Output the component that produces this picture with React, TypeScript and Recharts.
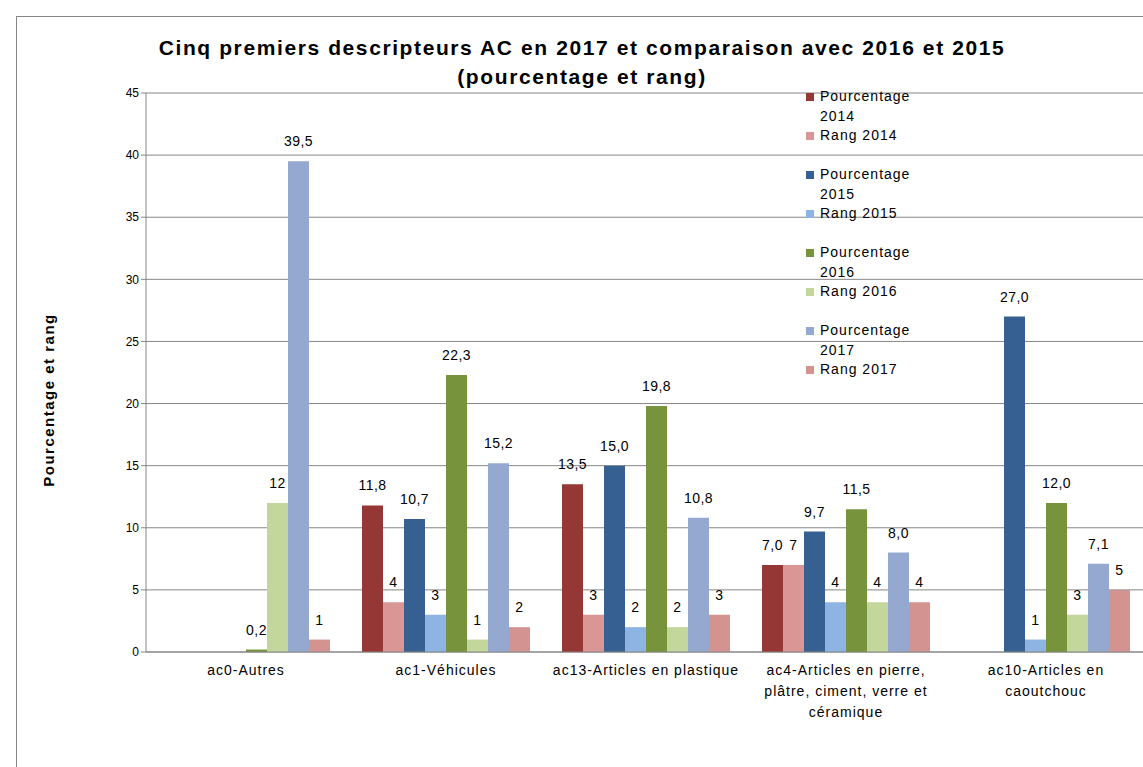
import React from 'react';
import { BarChart, Bar, XAxis, YAxis, CartesianGrid, LabelList, Legend, Label } from 'recharts';

const categories = [
  'ac0-Autres',
  'ac1-Véhicules',
  'ac13-Articles en plastique',
  'ac4-Articles en pierre, plâtre, ciment, verre et céramique',
  'ac10-Articles en caoutchouc',
];
// how the category names break on the axis
const categoryLines = [
  ['ac0-Autres'],
  ['ac1-Véhicules'],
  ['ac13-Articles en plastique'],
  ['ac4-Articles en pierre,', 'plâtre, ciment, verre et', 'céramique'],
  ['ac10-Articles en', 'caoutchouc'],
];

const pct2014 = [null, 11.8, 13.5, 7.0, null];
const rang2014 = [null, 4, 3, 7, null];
const pct2015 = [null, 10.7, 15.0, 9.7, 27.0];
const rang2015 = [null, 3, 2, 4, 1];
const pct2016 = [0.2, 22.3, 19.8, 11.5, 12.0];
const rang2016 = [12, 1, 2, 4, 3];
const pct2017 = [39.5, 15.2, 10.8, 8.0, 7.1];
const rang2017 = [1, 2, 3, 4, 5];

const yTicks = [0, 5, 10, 15, 20, 25, 30, 35, 40, 45];

const series = [
  { key: 'p2014', name: 'Pourcentage 2014', color: '#953735', values: pct2014, pct: true },
  { key: 'r2014', name: 'Rang 2014', color: '#D99694', values: rang2014, pct: false },
  { key: 'p2015', name: 'Pourcentage 2015', color: '#376092', values: pct2015, pct: true },
  { key: 'r2015', name: 'Rang 2015', color: '#8EB4E3', values: rang2015, pct: false },
  { key: 'p2016', name: 'Pourcentage 2016', color: '#77933C', values: pct2016, pct: true },
  { key: 'r2016', name: 'Rang 2016', color: '#C3D69B', values: rang2016, pct: false },
  { key: 'p2017', name: 'Pourcentage 2017', color: '#95A9D0', values: pct2017, pct: true },
  { key: 'r2017', name: 'Rang 2017', color: '#D39391', values: rang2017, pct: false },
];

const data = categories.map((name, i) => {
  const row: any = { name, idx: i };
  series.forEach((s) => {
    row[s.key] = s.values[i];
  });
  return row;
});

const FONT = '"Liberation Sans", Arial, sans-serif';
const GRID = '#868686';

const fmtPct = (v: any) => (v == null ? '' : Number(v).toFixed(1).replace('.', ','));
const fmtRang = (v: any) => (v == null ? '' : String(v));

const CategoryTick = (props: any) => {
  const { x, y, payload } = props;
  const lines = categoryLines[payload.index] || [payload.value];
  return (
    <text x={x} y={y} textAnchor="middle" fontSize={14} fill="#000" fontFamily={FONT} style={{ letterSpacing: 1 }}>
      {lines.map((l: string, i: number) => (
        <tspan key={i} x={x} y={y + 15 + i * 21}>
          {l}
        </tspan>
      ))}
    </text>
  );
};

const LegendBox = () => (
  <div style={{ fontFamily: FONT, fontSize: 14, lineHeight: '19.5px', letterSpacing: 1, color: '#000' }}>
    {series.map((s, i) => (
      <div
        key={s.key}
        style={{ display: 'flex', alignItems: 'flex-start', marginBottom: !s.pct && i < series.length - 1 ? 19.5 : 0 }}
      >
        <div style={{ width: 8, height: 8, background: s.color, marginTop: 6, marginRight: 6, flexShrink: 0 }} />
        <div style={{ width: 100 }}>{s.name}</div>
      </div>
    ))}
  </div>
);

const App: React.FC = () => {
  return (
    <div style={{ position: 'relative', width: 1143, height: 767, overflow: 'hidden', background: '#fff', fontFamily: FONT }}>
      <style>{'body{margin:0}'}</style>
      <div
        style={{
          position: 'absolute',
          left: 16,
          top: 16,
          width: 1200,
          height: 800,
          border: `1px solid ${GRID}`,
        }}
      />
      <div
        style={{
          position: 'absolute',
          left: 0,
          top: 33,
          width: 1164,
          textAlign: 'center',
          fontWeight: 'bold',
          fontSize: 21,
          letterSpacing: 1.6,
          lineHeight: '29px',
          color: '#000',
        }}
      >
        Cinq premiers descripteurs AC en 2017 et comparaison avec 2016 et 2015
        <br />
        (pourcentage et rang)
      </div>
      <div style={{ position: 'absolute', left: 0, top: 0 }}>
        <BarChart
          width={1210}
          height={767}
          data={data}
          margin={{ top: 93, right: 64, bottom: 55, left: 0 }}
          barCategoryGap="8%"
          barGap={0}
        >
          <CartesianGrid vertical={false} stroke={GRID} />
          <XAxis
            dataKey="name"
            axisLine={{ stroke: GRID }}
            tickLine={false}
            height={60}
            interval={0}
            tick={<CategoryTick />}
          />
          <YAxis
            width={146}
            domain={[0, 45]}
            ticks={yTicks}
            interval={0}
            axisLine={{ stroke: GRID }}
            tickLine={{ stroke: GRID }}
            tickSize={5}
            tick={{ fontSize: 12, fill: '#000', fontFamily: FONT }}
          >
            <Label
              content={() => (
                <text
                  x={48}
                  y={400}
                  transform="rotate(-90, 48, 400)"
                  textAnchor="middle"
                  dominantBaseline="central"
                  fontSize={15}
                  fontWeight="bold"
                  fill="#000"
                  fontFamily={FONT}
                  style={{ letterSpacing: 1.5 }}
                >
                  Pourcentage et rang
                </text>
              )}
            />
          </YAxis>
          <Legend
            layout="vertical"
            align="center"
            verticalAlign="middle"
            content={<LegendBox />}
            wrapperStyle={{ left: 806, top: 87, width: 130 }}
          />
          {series.map((s) => (
            <Bar key={s.key} dataKey={s.key} name={s.name} fill={s.color} isAnimationActive={false}>
              <LabelList
                dataKey={s.key}
                position="top"
                offset={15}
                formatter={s.pct ? fmtPct : fmtRang}
                style={{ fontSize: 14, fill: '#000', fontFamily: FONT, letterSpacing: 0.5 }}
              />
            </Bar>
          ))}
        </BarChart>
      </div>
    </div>
  );
};

export default App;
